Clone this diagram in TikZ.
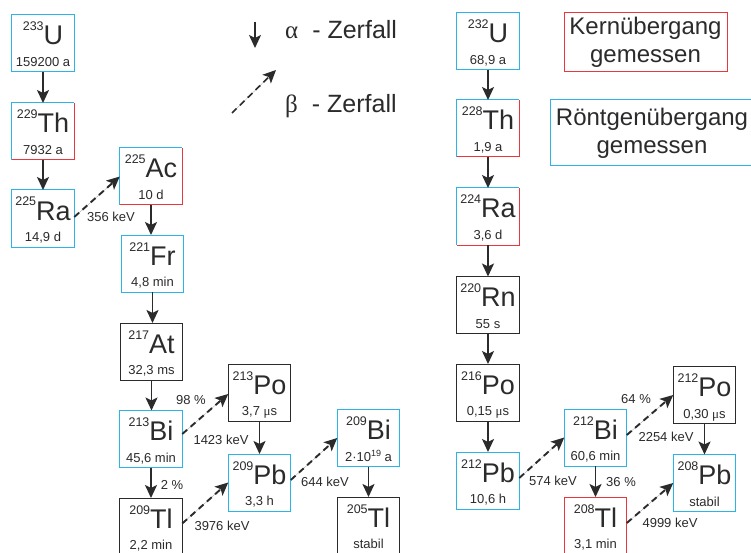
\documentclass[tikz,border=0pt]{standalone}
\usepackage{fontspec}
\setmainfont{Liberation Sans}
\newfontfamily\serifgr{Liberation Serif}
\usetikzlibrary{arrows.meta}
\definecolor{cblue}{HTML}{2BB5E6}
\definecolor{cred}{HTML}{E8383D}
\definecolor{cblack}{HTML}{2B2B2B}
\newcommand\fs[1]{\fontsize{#1}{#1}\selectfont}
\tikzset{
 nucbox/.style={minimum width=62.5pt, minimum height=57pt, inner sep=0pt, outer sep=0pt, fill=white, line width=1pt},
 bl/.style={nucbox, draw=cblue},
 rd/.style={nucbox, draw=cred},
 bk/.style={nucbox, draw=cblack},
 mx/.style={nucbox},
 symtxt/.style={anchor=base, inner sep=0pt, font=\fs{27}, text=cblack},
 hltxt/.style={anchor=base, inner sep=0pt, font=\fs{13}, text=cblack},
 lbl/.style={inner sep=0pt, font=\fs{13}, text=cblack},
 adecay/.style={-{Stealth[length=13pt,width=12pt,inset=3pt]}, line width=1.9pt, draw=cblack, fill=cblack},
 bdecay/.style={adecay, dash pattern=on 6.5pt off 4.5pt},
 legbox/.style={line width=1pt, inner sep=0pt, align=center, font=\fontsize{24}{28}\selectfont, text=cblack},
 legtxt/.style={anchor=base west, inner sep=0pt, font=\fs{25}, text=cblack},
}
\newcommand\nuc[7]{%
 \node[#2] (#1) at (#3,#4) {};
 \node[symtxt] (#1-s) at ([yshift=-30pt]#1.north) {\raisebox{14pt}{\fs{12.5}#5}#6};
 \node[hltxt] (#1-h) at ([yshift=5.5pt]#1.south) {#7};
}
\newcommand\mixborder[1]{%
 \draw[cblue, line width=1pt] (#1.south west) -- (#1.north west) -- (#1.north east);
 \draw[cred, line width=1pt] (#1.north east) -- (#1.south east) -- (#1.south west);
}
\newcommand\mus{{\serifgr μ}}
\begin{document}
\begin{tikzpicture}[x=1pt,y=-1pt]
\useasboundingbox (0,0) rectangle (751,553);
\fill[white] (0,0) rectangle (751,553);
% left chain
\nuc{U233}{bl}{43}{43.5}{233}{U}{159200 a}
\nuc{Th229}{mx}{43}{131.5}{229}{Th}{7932 a}
\mixborder{Th229}
\nuc{Ra225}{bl}{43}{218.5}{225}{Ra}{14,9 d}
\nuc{Ac225}{mx}{151}{176.5}{225}{Ac}{10 d}
\mixborder{Ac225}
\nuc{Fr221}{bl}{152.5}{263.5}{221}{Fr}{4,8 min}
\nuc{At217}{bk}{151.5}{351.5}{217}{At}{32,3 ms}
\nuc{Bi213}{bl}{151}{439}{213}{Bi}{45,6 min}
\nuc{Tl209}{bk}{151}{526.5}{209}{Tl}{2,2 min}
\nuc{Po213}{bk}{259.5}{392.5}{213}{Po}{3,7 \mus s}
\nuc{Pb209}{bl}{259.5}{482.5}{209}{Pb}{3,3 h}
\nuc{Bi209}{bl}{368.5}{438}{209}{Bi}{2\textperiodcentered10\raisebox{5pt}{\fs{9}19} a}
\nuc{Tl205}{bk}{368.5}{525.5}{205}{Tl}{stabil}
% right chain
\nuc{U232}{bl}{488}{41.5}{232}{U}{68,9 a}
\nuc{Th228}{mx}{488}{128.5}{228}{Th}{1,9 a}
\mixborder{Th228}
\nuc{Ra224}{mx}{488}{216.5}{224}{Ra}{3,6 d}
\mixborder{Ra224}
\nuc{Rn220}{bk}{488}{305}{220}{Rn}{55 s}
\nuc{Po216}{bk}{488}{392.5}{216}{Po}{0,15 \mus s}
\nuc{Pb212}{bl}{488}{480.5}{212}{Pb}{10,6 h}
\nuc{Bi212}{bl}{595.5}{437.5}{212}{Bi}{60,6 min}
\nuc{Tl208}{rd}{595.5}{525.5}{208}{Tl}{3,1 min}
\nuc{Po212}{bk}{704.5}{395}{212}{Po}{0,30 \mus s}
\nuc{Pb208}{bl}{704.5}{483}{208}{Pb}{stabil}
% alpha decays
\draw[adecay] (U233) -- (Th229);
\draw[adecay] (Th229) -- (Ra225);
\draw[adecay] (Ac225.south) -- (Ac225.south |- Fr221.north);
\draw[adecay] (Fr221.south) -- (Fr221.south |- At217.north);
\draw[adecay] (At217.south) -- (At217.south |- Bi213.north);
\draw[adecay] (Bi213) -- (Tl209);
\draw[adecay] (Po213) -- (Pb209);
\draw[adecay] (Bi209) -- (Tl205);
\draw[adecay] (U232) -- (Th228);
\draw[adecay] (Th228) -- (Ra224);
\draw[adecay] (Ra224) -- (Rn220);
\draw[adecay] (Rn220) -- (Po216);
\draw[adecay] (Po216) -- (Pb212);
\draw[adecay] (Bi212) -- (Tl208);
\draw[adecay] (Po212) -- (Pb208);
% beta decays
\draw[bdecay] ([yshift=1.5pt]Ra225.east) -- (Ac225.west);
\draw[bdecay] ([yshift=5pt]Bi213.east) -- ([yshift=-1.5pt]Po213.west);
\draw[bdecay] ([yshift=3pt]Tl209.east) -- (Pb209.west);
\draw[bdecay] ([yshift=2.5pt]Pb209.east) -- (Bi209.west);
\draw[bdecay] ([yshift=2.5pt]Pb212.east) -- (Bi212.west);
\draw[bdecay] ([yshift=2.5pt]Bi212.east) -- (Po212.west);
\draw[bdecay] ([yshift=2.5pt]Tl208.east) -- (Pb208.west);
% labels
\node[lbl] (l1) at (111,217) {356 keV};
\node[lbl] (l2) at (191,400) {98 \%};
\node[lbl] (l3) at (221,440) {1423 keV};
\node[lbl] (l4) at (172,485) {2 \%};
\node[lbl] (l5) at (222,526) {3976 keV};
\node[lbl] (l6) at (325,482) {644 keV};
\node[lbl] (l7) at (553,481) {574 keV};
\node[lbl] (l8) at (636,399) {64 \%};
\node[lbl] (l9) at (666,437) {2254 keV};
\node[lbl] (l10) at (621,482) {36 \%};
\node[lbl] (l11) at (670,523) {4999 keV};
% legend
\coordinate (la1) at (255,22);
\coordinate (la2) at (255,48);
\draw[adecay, line width=1.6pt] (la1) -- (la2);
\node[legtxt] (lat) at (285,39) {{\serifgr α}\hspace{14pt}- Zerfall};
\coordinate (lb1) at (232,113);
\coordinate (lb2) at (276,70);
\draw[bdecay, line width=1.6pt] (lb1) -- (lb2);
\node[legtxt] (lbt) at (285,113) {{\serifgr β}\hspace{14pt}- Zerfall};
\node[legbox, draw=cred, minimum width=163pt, minimum height=59pt] (kern) at (645.5,42.5) {Kernübergang\\gemessen};
\node[legbox, draw=cblue, minimum width=204pt, minimum height=66pt] (roent) at (652,133) {Röntgenübergang\\gemessen};
\end{tikzpicture}
\end{document}
